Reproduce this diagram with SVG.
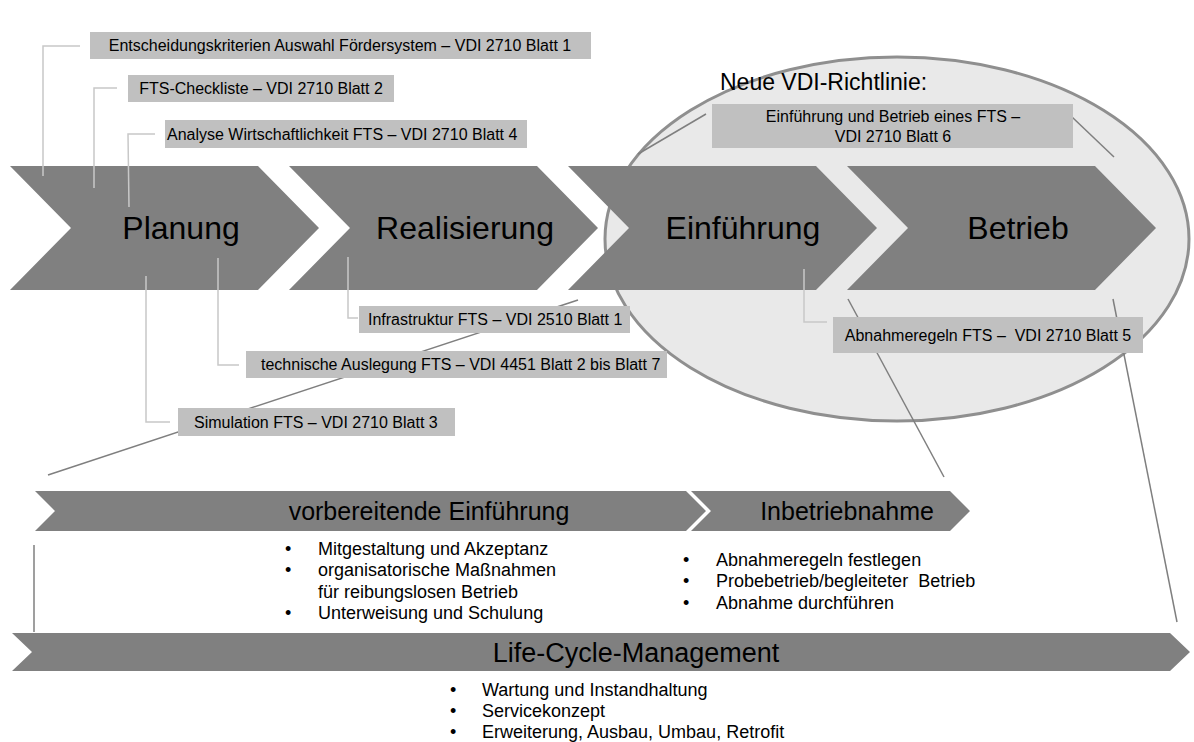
<svg xmlns="http://www.w3.org/2000/svg" width="1194" height="742" viewBox="0 0 1194 742">
<style>
text{font-family:"Liberation Sans",Arial,sans-serif;fill:#000}
.chev{fill:#808080}
.box{fill:#c0c0c0}
.lbl{font-size:16px}
.big{font-size:32px;text-anchor:middle}
.mid{font-size:25px;text-anchor:middle}
.li{font-size:18px}
.thin{fill:none;stroke:#c8c8c8;stroke-width:1.5}
.dark{fill:none;stroke:#7f7f7f;stroke-width:1.5}
.pre{white-space:pre}
</style>
<rect width="1194" height="742" fill="#fff"/>
<g id="ellipse">
<ellipse cx="897" cy="239" rx="292" ry="182" fill="#e9e9e9" stroke="#8f8f8f" stroke-width="3"/>
<text x="720" y="90" style="font-size:23px">Neue VDI-Richtlinie:</text>
</g>
<g id="chevrons">
<g id="planung"><path class="chev" d="M10,166 L258,166 L319,228 L258,290 L10,290 L71,228 Z"/><text class="big" x="181" y="239">Planung</text></g>
<g id="realisierung"><path class="chev" d="M289,166 L537,166 L598,228 L537,290 L289,290 L350,228 Z"/><text class="big" x="465" y="239">Realisierung</text></g>
<g id="einfuehrung"><path class="chev" d="M568,166 L816,166 L877,228 L816,290 L568,290 L629,228 Z"/><text class="big" x="743" y="239">Einführung</text></g>
<g id="betrieb"><path class="chev" d="M847,166 L1095,166 L1156,228 L1095,290 L847,290 L908,228 Z"/><text class="big" x="1018" y="239">Betrieb</text></g>
</g>
<g id="connectors">
<polyline class="thin" points="80,46 43,46 43,176"/>
<polyline class="thin" points="117,88 94,88 94,188"/>
<polyline class="thin" points="155,134 128,134 129,207"/>
<polyline class="thin" points="146,276 146,422 170,422"/>
<polyline class="thin" points="218,258 218,365 239,365"/>
<polyline class="thin" points="348,257 348,318 358,318"/>
<polyline class="thin" points="804,269 804,322 827,322"/>
<line class="dark" x1="706" y1="114" x2="638" y2="154"/>
<line class="dark" x1="1072" y1="117" x2="1114" y2="157"/>
<line class="dark" x1="48" y1="475" x2="578" y2="300"/>
<line class="dark" x1="848" y1="299" x2="944" y2="477"/>
<line class="dark" x1="1113" y1="299" x2="1177" y2="622"/>
<line class="dark" x1="34" y1="545" x2="34" y2="632"/>
</g>
<g id="box-vdi2710-1"><rect class="box" x="90" y="32" width="501" height="27"/><text class="lbl" x="340" y="51" text-anchor="middle">Entscheidungskriterien Auswahl Fördersystem – VDI 2710 Blatt 1</text></g>
<g id="box-vdi2710-2"><rect class="box" x="128" y="75" width="266" height="27"/><text class="lbl" x="261" y="94" text-anchor="middle">FTS-Checkliste – VDI 2710 Blatt 2</text></g>
<g id="box-vdi2710-4"><rect class="box" x="165" y="120" width="362" height="28"/><text class="lbl" x="167" y="140">Analyse Wirtschaftlichkeit FTS – VDI 2710 Blatt 4</text></g>
<g id="box-vdi2510-1"><rect class="box" x="359" y="306" width="271" height="27"/><text class="lbl" x="368" y="325">Infrastruktur FTS – VDI 2510 Blatt 1</text></g>
<g id="box-vdi4451"><rect class="box" x="246" y="351" width="421" height="27"/><text class="lbl" x="261" y="370">technische Auslegung FTS – VDI 4451 Blatt 2 bis Blatt 7</text></g>
<g id="box-vdi2710-3"><rect class="box" x="178" y="408" width="277" height="28"/><text class="lbl" x="194" y="428">Simulation FTS – VDI 2710 Blatt 3</text></g>
<g id="box-vdi2710-6"><rect class="box" x="712" y="104" width="361" height="44"/><text class="lbl" x="893" y="122" text-anchor="middle">Einführung und Betrieb eines FTS –</text><text class="lbl" x="893" y="142" text-anchor="middle">VDI 2710 Blatt 6</text></g>
<g id="box-vdi2710-5"><rect class="box" x="833" y="317" width="310" height="36"/><text class="lbl pre" x="988" y="341" text-anchor="middle">Abnahmeregeln FTS –  VDI 2710 Blatt 5</text></g>
<g id="vorbereitende">
<path class="chev" d="M35,491 L686,491 L706,511 L686,531 L35,531 L55,511 Z"/>
<text class="mid" x="429" y="520">vorbereitende Einführung</text>
<text class="li" x="285" y="555">•</text><text class="li" x="318" y="555">Mitgestaltung und Akzeptanz</text>
<text class="li" x="285" y="576">•</text><text class="li" x="318" y="576">organisatorische Maßnahmen</text>
<text class="li" x="318" y="598">für reibungslosen Betrieb</text>
<text class="li" x="285" y="619">•</text><text class="li" x="318" y="619">Unterweisung und Schulung</text>
</g>
<g id="inbetriebnahme">
<path class="chev" d="M691,491 L950,491 L970,511 L950,531 L691,531 L711,511 Z"/>
<text class="mid" x="847" y="520">Inbetriebnahme</text>
<text class="li" x="683" y="566">•</text><text class="li" x="716" y="566">Abnahmeregeln festlegen</text>
<text class="li pre" x="683" y="587">•</text><text class="li pre" x="716" y="587">Probebetrieb/begleiteter  Betrieb</text>
<text class="li" x="683" y="609">•</text><text class="li" x="716" y="609">Abnahme durchführen</text>
</g>
<g id="lifecycle">
<path class="chev" d="M12,633 L1170,633 L1190,652 L1170,671 L12,671 L32,652 Z"/>
<text class="mid" x="636" y="662" style="font-size:27px">Life-Cycle-Management</text>
<text class="li" x="450" y="696">•</text><text class="li" x="482" y="696">Wartung und Instandhaltung</text>
<text class="li" x="450" y="717">•</text><text class="li" x="482" y="717">Servicekonzept</text>
<text class="li" x="450" y="738">•</text><text class="li" x="482" y="738">Erweiterung, Ausbau, Umbau, Retrofit</text>
</g>
</svg>
